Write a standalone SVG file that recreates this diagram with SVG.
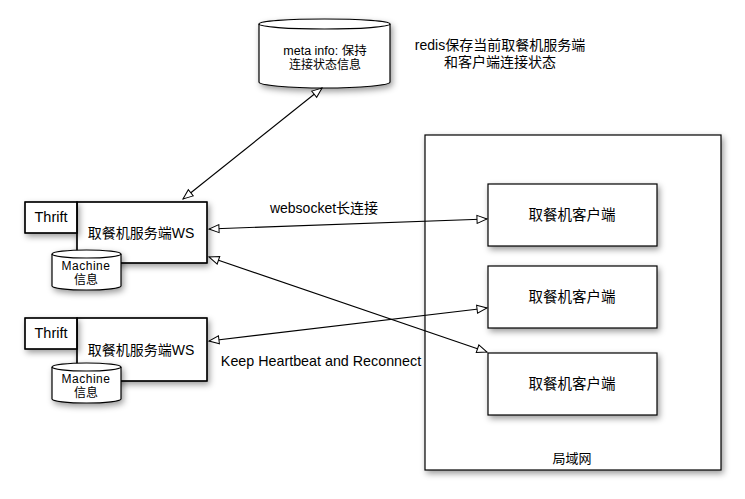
<svg xmlns="http://www.w3.org/2000/svg" width="745" height="499" viewBox="0 0 745 499">
<defs>
<filter id="sh" x="-20%" y="-20%" width="150%" height="160%">
<feDropShadow dx="2" dy="3" stdDeviation="3" flood-color="#000" flood-opacity="0.4"/>
</filter>
<marker id="tri" viewBox="0 0 12 10" refX="11" refY="5" markerWidth="12" markerHeight="10" markerUnits="userSpaceOnUse" orient="auto-start-reverse">
<path d="M1,1 L11,5 L1,9 Z" fill="#fff" stroke="#000" stroke-width="1"/>
</marker>
<style>
.box{fill:#fff;stroke:#000;stroke-width:1.2}
.t{font-family:"Liberation Sans","Noto Sans CJK SC",sans-serif;fill:#000;text-anchor:middle}
.c{font-family:"Noto Sans CJK SC","Liberation Sans",sans-serif;fill:#000;text-anchor:middle}
.ln{stroke:#000;stroke-width:1.1;fill:none;marker-start:url(#tri);marker-end:url(#tri)}
</style>
</defs>
<rect width="745" height="499" fill="#fff"/>

<g id="lan">
<rect class="box" x="425" y="135" width="296" height="335" filter="url(#sh)"/>
<text class="c" x="572" y="463" font-size="13">局域网</text>
</g>

<g id="meta">
<path class="box" d="M259,24 A65.5,5 0 0 1 390,24 L390,82 A65.5,6 0 0 1 259,82 Z" filter="url(#sh)"/>
<path d="M259,24 A65.5,5 0 0 0 390,24" fill="none" stroke="#000" stroke-width="1.2"/>
<text class="t" x="325" y="55" font-size="12.5">meta info: 保持</text>
<text class="t" x="325" y="69" font-size="12">连接状态信息</text>
</g>

<g id="redis-label">
<text class="t" x="500" y="50" font-size="14">redis保存当前取餐机服务端</text>
<text class="t" x="500" y="67" font-size="14">和客户端连接状态</text>
</g>

<g id="server1">
<rect class="box" x="77" y="202" width="130" height="61" filter="url(#sh)"/>
<rect class="box" x="25" y="202" width="52" height="31" filter="url(#sh)"/>
<rect x="77" y="202" width="130" height="61" fill="none" stroke="#000" stroke-width="1.2"/>
<rect x="25" y="202" width="52" height="31" fill="none" stroke="#000" stroke-width="1.2"/>
<text class="t" x="51" y="222" font-size="14.5">Thrift</text>
<text class="t" x="141" y="238" font-size="14">取餐机服务端WS</text>
<path class="box" d="M52,254 A34.5,4 0 0 1 121,254 L121,286 A34.5,4 0 0 1 52,286 Z" filter="url(#sh)"/>
<path d="M52,254 A34.5,4 0 0 0 121,254" fill="none" stroke="#000" stroke-width="1.2"/>
<text class="t" x="86" y="270" font-size="12" letter-spacing="0.5">Machine</text>
<text class="t" x="86" y="284" font-size="12">信息</text>
</g>

<g id="server2">
<rect class="box" x="77" y="318" width="130" height="63" filter="url(#sh)"/>
<rect class="box" x="25" y="318" width="52" height="31" filter="url(#sh)"/>
<rect x="77" y="318" width="130" height="63" fill="none" stroke="#000" stroke-width="1.2"/>
<rect x="25" y="318" width="52" height="31" fill="none" stroke="#000" stroke-width="1.2"/>
<text class="t" x="51" y="338" font-size="14.5">Thrift</text>
<text class="t" x="141" y="355" font-size="14">取餐机服务端WS</text>
<path class="box" d="M52,367 A34.5,4 0 0 1 121,367 L121,399 A34.5,4 0 0 1 52,399 Z" filter="url(#sh)"/>
<path d="M52,367 A34.5,4 0 0 0 121,367" fill="none" stroke="#000" stroke-width="1.2"/>
<text class="t" x="86" y="383" font-size="12" letter-spacing="0.5">Machine</text>
<text class="t" x="86" y="397" font-size="12">信息</text>
</g>

<g id="client1">
<rect class="box" x="488" y="184" width="169" height="62" filter="url(#sh)"/>
<text class="c" x="572" y="220" font-size="14.5">取餐机客户端</text>
</g>
<g id="client2">
<rect class="box" x="488" y="266" width="169" height="62" filter="url(#sh)"/>
<text class="c" x="572" y="302" font-size="14.5">取餐机客户端</text>
</g>
<g id="client3">
<rect class="box" x="488" y="353" width="169" height="62" filter="url(#sh)"/>
<text class="c" x="572" y="389" font-size="14.5">取餐机客户端</text>
</g>

<g id="connectors">
<line class="ln" x1="183" y1="199" x2="322" y2="88"/>
<line class="ln" x1="209" y1="229" x2="487" y2="219"/>
<line class="ln" x1="209" y1="257" x2="487" y2="352"/>
<line class="ln" x1="209" y1="341" x2="487" y2="308"/>
<text class="t" x="324" y="213" font-size="14">websocket长连接</text>
<text class="t" x="321" y="366" font-size="14.3">Keep Heartbeat and Reconnect</text>
</g>
</svg>
